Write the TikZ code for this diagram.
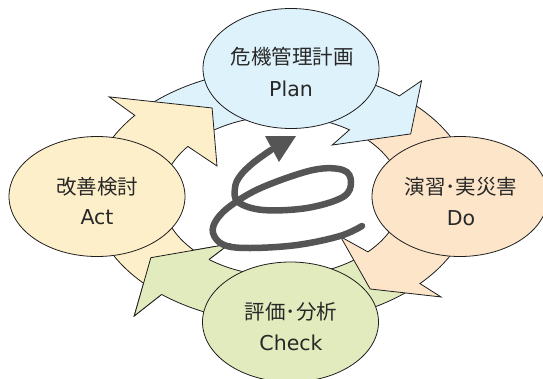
\documentclass[tikz,border=0pt]{standalone}
\usepackage{fontspec}
\setmainfont{DejaVu Sans}
\newfontfamily\jpfont{Noto Sans CJK JP}
\usetikzlibrary{shapes.geometric}
\definecolor{cblue}{RGB}{222,242,251}
\definecolor{cyel}{RGB}{253,239,201}
\definecolor{corg}{RGB}{253,229,202}
\definecolor{cgrn}{RGB}{226,235,190}
\definecolor{spir}{RGB}{85,85,85}
\definecolor{txt}{RGB}{40,40,40}
\definecolor{edgec}{RGB}{30,30,30}
\tikzset{
  arr/.style={draw=edgec, line width=0.8pt, line join=miter},
  bubble/.style={ellipse, draw=edgec, line width=0.8pt, minimum width=176pt, minimum height=120pt, inner sep=0pt},
  jplab/.style={anchor=base, text=txt, inner sep=0pt, font=\jpfont\fontsize{20.5}{20.5}\selectfont},
  enlab/.style={anchor=base, text=txt, inner sep=0pt, font=\fontsize{20.5}{20.5}\selectfont},
  spiral/.style={draw=spir, line width=6.5pt}
}
\begin{document}
\begin{tikzpicture}[x=1pt,y=-1pt]
\useasboundingbox (0,0) rectangle (543,378);
\clip (0,0) rectangle (543,378);
\fill[white] (0,0) rectangle (543,378);

\begin{scope}[shift={(282,196)}, xscale=1.5]
% green (Check -> Act)
\filldraw[arr, fill=cgrn] (48:127) arc[start angle=48, end angle=129.2, radius=127]
  -- (129.4:155.2) -- (144.8:107) -- (126.2:59.5) -- (127.5:80)
  arc[start angle=127.5, end angle=48, radius=80] -- cycle;
% orange (Do -> Check)
\filldraw[arr, fill=corg] (-47:127) arc[start angle=-47, end angle=43.6, radius=127]
  -- (43.6:146.4) -- (57.7:110) -- (46.2:56.4) -- (44.3:80)
  arc[start angle=44.3, end angle=-47, radius=80] -- cycle;
% blue (Plan -> Do)
\filldraw[arr, fill=cblue] (-134:127) arc[start angle=-134, end angle=-52, radius=127]
  -- (-51.1:148.2) -- (-35.9:105.9) -- (-56.7:61) -- (-55.8:80)
  arc[start angle=-55.8, end angle=-134, radius=80] -- cycle;
% yellow (Act -> Plan)
\filldraw[arr, fill=cyel] (134:127) arc[start angle=134, end angle=219.4, radius=127]
  -- (220.7:152) -- (242.1:99.6) -- (214.7:52.7) -- (218.3:80)
  arc[start angle=218.3, end angle=134, radius=80] -- cycle;
% green head on top of yellow tail
\fill[cgrn] (129.2:127) -- (129.4:155.2) -- (144.8:107) -- (126.2:59.5) -- (127.5:80) -- cycle;
\draw[arr] (129.2:127) -- (129.4:155.2) -- (144.8:107) -- (126.2:59.5) -- (127.5:80);
\end{scope}

\node[bubble, fill=cblue] (plan) at (291,68.5) {};
\node[bubble, fill=corg] (do) at (460,196.5) {};
\node[bubble, fill=cyel] (act) at (97,196.5) {};
\node[bubble, fill=cgrn] (check) at (290.5,322) {};

\node[jplab] (planjp) at (292,64.5) {危機管理計画};
\node[enlab] (planen) at (291,96.5) {Plan};
\node[jplab] (dojp) at (461,194.5) {演習･実災害};
\node[enlab] (doen) at (461,225.5) {Do};
\node[jplab] (actjp) at (97,194.5) {改善検討};
\node[enlab] (acten) at (97,224.5) {Act};
\node[jplab] (checkjp) at (291,319.5) {評価･分析};
\node[enlab] (checken) at (291,350.5) {Check};

\draw[spiral, line cap=round] plot[smooth, tension=0.6] coordinates {(362,226) (340,236) (297,245) (250,248) (224,245) (213,233) (217,219) (233,204) (263,187) (313,170) (343,170) (351,182) (343,197) (307,208) (263,210) (238,202) (235,188) (240,176) (253,163) (271,150)};
\fill[spir] (265,136) -- (296,136) -- (279,162) -- cycle;
\end{tikzpicture}
\end{document}
